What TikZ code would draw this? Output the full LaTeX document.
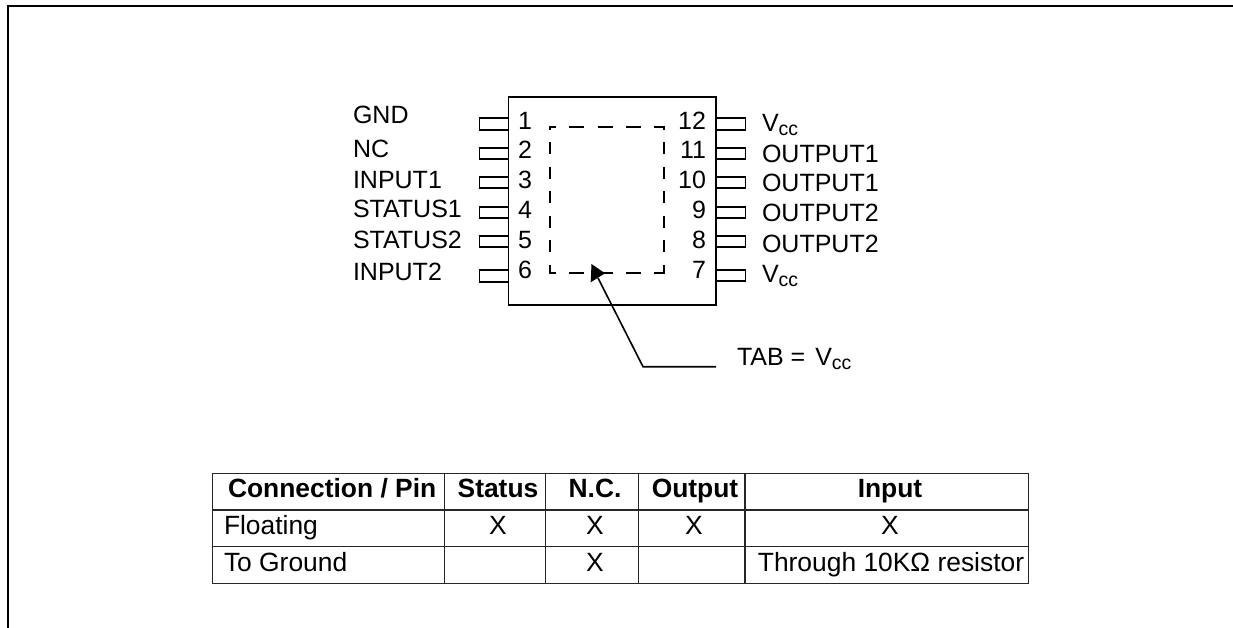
\documentclass[tikz,border=0pt]{standalone}
\usepackage{fontspec}
\setmainfont{Liberation Sans}
\newcommand{\vcc}{V\raisebox{-4pt}{\fontsize{19.5}{19.5}\selectfont cc}}
\tikzset{
  x=1pt,y=-1pt,
  lab/.style={inner sep=0pt,outer sep=0pt,anchor=base west,font=\fontsize{25}{25}\selectfont},
  num/.style={inner sep=0pt,outer sep=0pt,anchor=base east,font=\fontsize{25}{25}\selectfont},
  cell/.style={inner sep=0pt,outer sep=0pt,anchor=base west,font=\fontsize{26.4}{26.4}\selectfont},
  cellc/.style={inner sep=0pt,outer sep=0pt,anchor=base,font=\fontsize{26.4}{26.4}\selectfont},
  headc/.style={inner sep=0pt,outer sep=0pt,anchor=base,font=\fontsize{26.4}{26.4}\selectfont\bfseries},
  chip/.style={draw,line width=1.8pt,inner sep=0pt,outer sep=0pt,anchor=north west},
  frameline/.style={line width=2.2pt},
  pinl/.style={line width=1.6pt},
  tline/.style={line width=1.2pt,black!85},
  tabh/.style={line width=2pt,dash pattern=on 15pt off 13.3pt,dash phase=8pt},
  tabv/.style={line width=2pt,dash pattern=on 12.3pt off 12.2pt,dash phase=8pt},
  leader/.style={line width=1.6pt}
}
\begin{document}
\begin{tikzpicture}
\useasboundingbox (0,0) rectangle (1233,628);
% frame
\coordinate (fa) at (8,628);
\coordinate (fb) at (8,6);
\coordinate (fc) at (1233,6);
\draw[frameline] (fa) -- (fb) -- (fc);
% chip
\node[chip,minimum width=207.5pt,minimum height=208.5pt] (ic) at (508.5,96.7) {};
% tab
\coordinate (ta) at (549,126.7);
\coordinate (tb) at (665,126.7);
\coordinate (tc) at (665,273.3);
\coordinate (td) at (549,273.3);
\coordinate (tav) at (550,125.7);
\coordinate (tbv) at (664,125.7);
\coordinate (tcv) at (664,274.3);
\coordinate (tdv) at (550,274.3);
\draw[tabh] (ta) -- (tb);
\draw[tabv] (tbv) -- (tcv);
\draw[tabh] (td) -- (tc);
\draw[tabv] (tav) -- (tdv);
% pins
\foreach \n/\a/\b in {1/118/130,2/148/159,3/177/188,4/207/218,5/236/247,6/270/282}{
  \draw[pinl] (508,\a) -- (479.5,\a) -- (479.5,\b) -- (508,\b);
}
\foreach \n/\a/\b in {12/118/130,11/148/159,10/177/188,9/207/218,8/236/247,7/270/281}{
  \draw[pinl] (716,\a) -- (745.5,\a) -- (745.5,\b) -- (716,\b);
}
% left labels
\node[lab] (l1) at (353,124) {GND};
\node[lab] (l2) at (353,158) {NC};
\node[lab] (l3) at (353,189) {INPUT1};
\node[lab] (l4) at (353,218) {STATUS1};
\node[lab] (l5) at (353,248) {STATUS2};
\node[lab] (l6) at (353,280) {INPUT2};
% numbers
\node[lab] (n1) at (518,130) {1};
\node[lab] (n2) at (518,159) {2};
\node[lab] (n3) at (518,189) {3};
\node[lab] (n4) at (518,219) {4};
\node[lab] (n5) at (518,249) {5};
\node[lab] (n6) at (518,278) {6};
\node[num] (n12) at (706,130) {12};
\node[num] (n11) at (706,159) {11};
\node[num] (n10) at (706,189) {10};
\node[num] (n9) at (706,219) {9};
\node[num] (n8) at (706,249) {8};
\node[num] (n7) at (706,278) {7};
% right labels
\node[lab] (r12) at (762,132) {\vcc};
\node[lab] (r11) at (762,163) {OUTPUT1};
\node[lab] (r10) at (762,192) {OUTPUT1};
\node[lab] (r9) at (762,222) {OUTPUT2};
\node[lab] (r8) at (762,252.5) {OUTPUT2};
\node[lab] (r7) at (762,282) {\vcc};
% leader
\coordinate (le) at (716,366.7);
\coordinate (lm) at (643,366.7);
\coordinate (lt) at (598,278);
\coordinate (tipa) at (591.5,264);
\coordinate (tipb) at (605,273.3);
\coordinate (tipc) at (590.7,282.3);
\draw[leader] (le) -- (lm) -- (lt);
\fill (tipa) -- (tipb) -- (tipc) -- cycle;
\node[lab] (tabl) at (737,365) {TAB =\hspace{3pt} \vcc};
% table
\coordinate (t0) at (212.3,473.3);
\coordinate (t1) at (1028.7,583.7);
\draw[tline] (t0) rectangle (t1);
\foreach \y in {510,546.7}{ \draw[tline] (212.3,\y) -- (1028.7,\y); }
\foreach \x in {444.3,545.3,638.3,745}{ \draw[tline] (\x,473.3) -- (\x,583.7); }
\node[headc,anchor=base west] (h1) at (228,497.3) {Connection / Pin};
\node[headc] (h2) at (498,497.3) {Status};
\node[headc] (h3) at (595,497.3) {N.C.};
\node[headc] (h4) at (695,497.3) {Output};
\node[headc] (h5) at (890,497.3) {Input};
\node[cell] (c1) at (224,534) {Floating};
\node[cellc] (c2) at (498,534) {X};
\node[cellc] (c3) at (595,534) {X};
\node[cellc] (c4) at (694,534) {X};
\node[cellc] (c5) at (890,534) {X};
\node[cell] (d1) at (224,571) {To Ground};
\node[cellc] (d3) at (595,571) {X};
\node[cellc] (d5) at (891,571) {Through 10KΩ resistor};
\end{tikzpicture}
\end{document}
